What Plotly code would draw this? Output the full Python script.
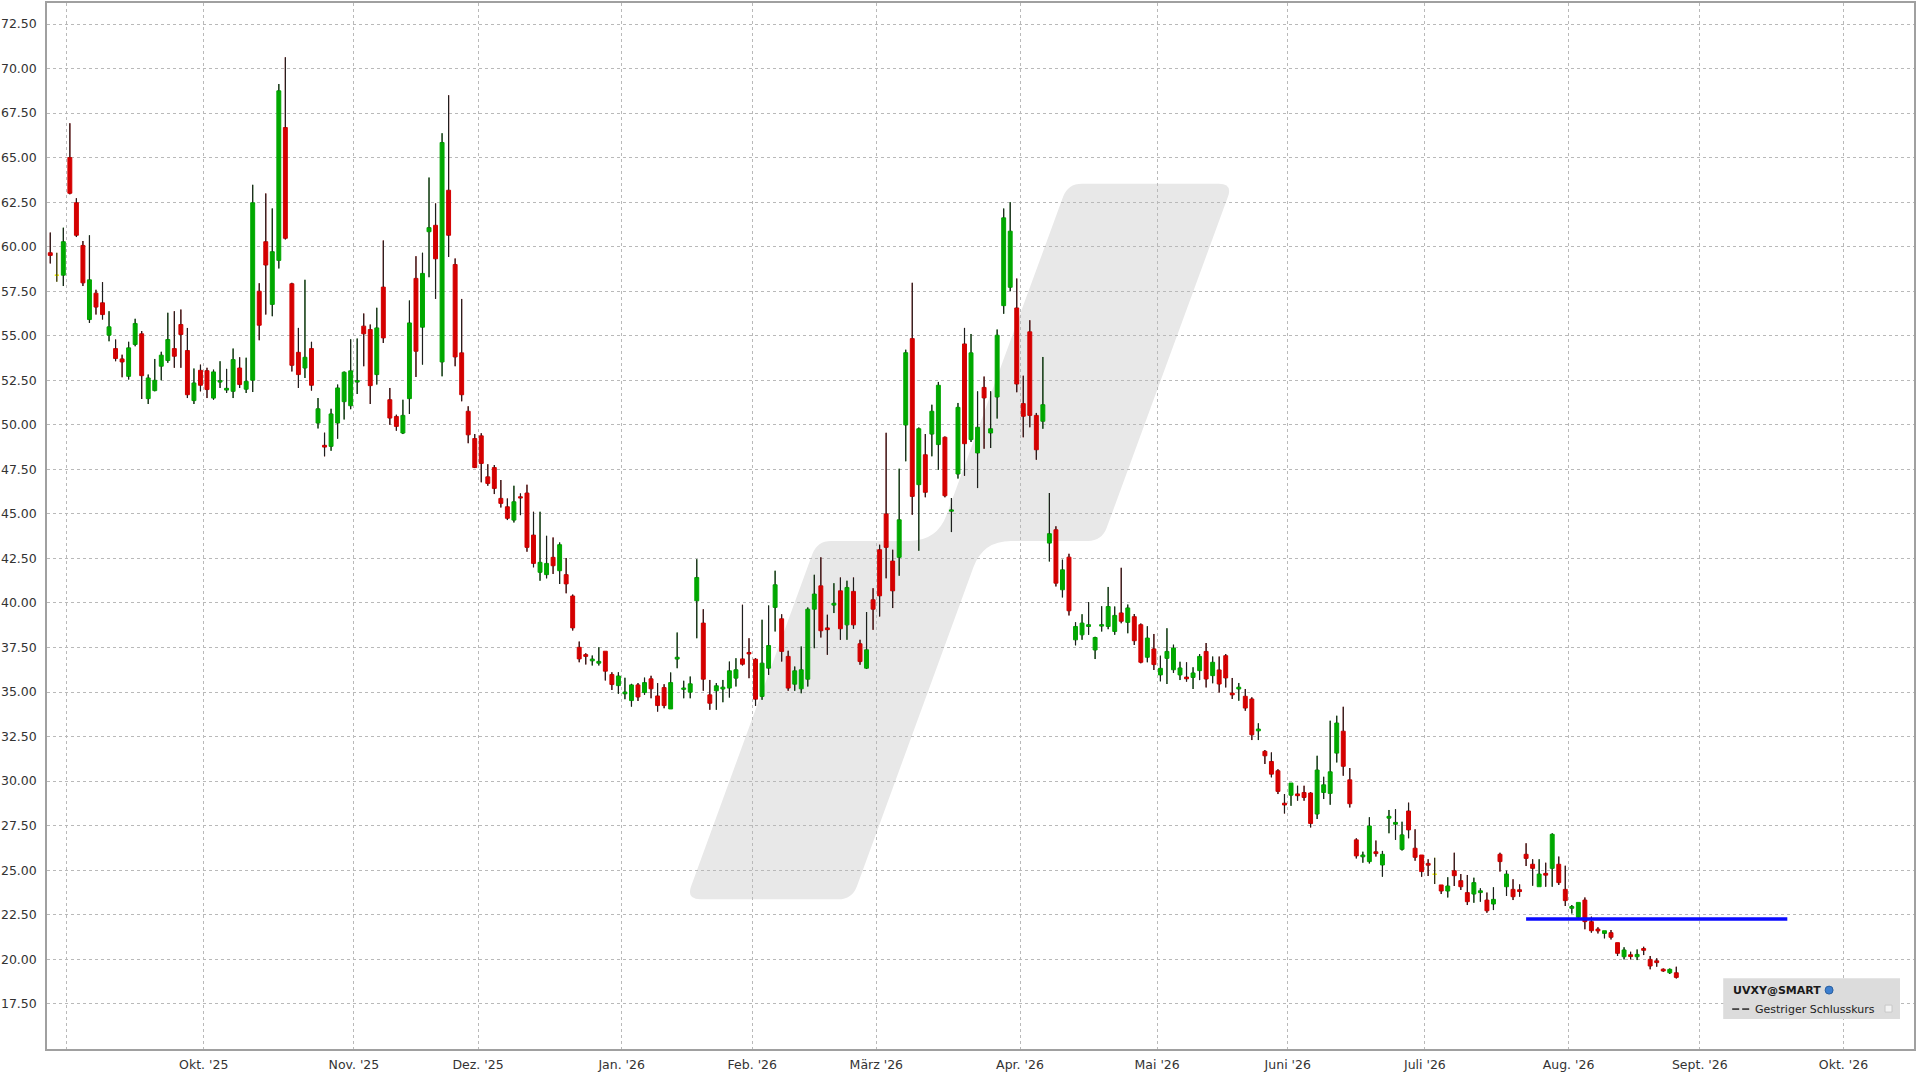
import plotly.graph_objects as go

# ---------------- data ----------------
open_ = [59.66, 58.4, 58.4, 65.0, 62.47, 60.07, 55.91, 57.39, 56.85, 55.03,
         54.28, 53.7, 52.72, 54.51, 55.11, 51.47, 51.92, 53.29, 53.61, 54.28,
         55.63, 54.17, 51.36, 53.06, 53.04, 51.5, 52.4, 51.95, 51.88, 53.19,
         52.0, 52.5, 57.5, 60.28, 56.76, 59.23, 66.69, 57.92, 54.07, 53.19,
         54.28, 50.1, 48.85, 48.79, 50.1, 51.3, 51.07, 52.4, 55.54, 55.35,
         52.82, 57.73, 51.41, 50.47, 49.54, 51.47, 58.22, 55.48, 60.84, 61.2,
         53.53, 63.17, 59.0, 54.04, 50.76, 49.23, 49.38, 47.08, 47.6, 45.87,
         45.4, 44.65, 45.96, 46.17, 43.81, 41.72, 41.59, 42.56, 41.81, 41.59,
         40.39, 37.51, 37.1, 36.75, 36.62, 37.29, 35.98, 35.36, 34.9, 34.52,
         35.4, 34.97, 35.74, 34.78, 35.25, 34.05, 36.85, 35.15, 34.99, 40.12,
         38.87, 34.84, 35.07, 35.17, 35.22, 35.78, 36.86, 37.22, 36.84, 34.75,
         36.34, 39.75, 39.11, 37.0, 35.44, 35.18, 35.72, 39.65, 40.96, 38.6,
         39.88, 40.68, 38.77, 40.65, 37.71, 36.34, 40.18, 42.99, 45.0, 42.35,
         42.56, 49.99, 54.84, 46.64, 48.32, 49.48, 48.89, 49.3, 45.15, 47.24,
         54.54, 49.17, 48.42, 52.1, 49.54, 51.56, 56.69, 57.72, 56.56, 51.19,
         55.22, 50.53, 50.2, 43.36, 44.11, 40.74, 42.57, 37.93, 38.21, 38.68,
         37.36, 38.7, 38.68, 38.4, 39.44, 38.91, 39.23, 38.78, 36.95, 37.42,
         35.96, 36.89, 36.25, 35.96, 35.84, 35.82, 36.2, 37.28, 35.92, 36.24,
         37.04, 34.94, 35.17, 34.76, 34.61, 32.82, 31.67, 31.1, 30.58, 28.76,
         29.21, 29.28, 29.36, 29.33, 28.15, 29.36, 29.31, 31.57, 32.8, 30.07,
         26.7, 25.75, 25.48, 26.03, 25.29, 27.92, 27.58, 26.17, 28.32, 26.23,
         25.85, 25.38, 24.77, 24.17, 23.83, 24.97, 24.41, 23.74, 23.66, 23.74,
         23.32, 23.1, 25.89, 24.07, 23.92, 23.9, 25.89, 25.33, 24.07, 24.82,
         25.1, 25.33, 23.92, 22.86, 22.35, 23.32, 22.11, 21.69, 21.45, 21.49,
         20.93, 20.14, 20.25, 20.14, 20.6, 19.99, 19.91, 19.44, 19.24, 19.24]

high = [60.79, 59.66, 61.07, 66.93, 62.72, 60.32, 60.64, 57.58, 58.01, 56.38,
        54.79, 53.94, 54.66, 55.95, 55.26, 52.82, 53.7, 54.1, 56.29, 56.38,
        56.47, 55.44, 53.16, 53.38, 53.2, 53.1, 53.57, 53.14, 54.28, 53.79,
        53.77, 63.47, 57.95, 62.99, 62.15, 69.13, 70.63, 57.97, 55.44, 58.14,
        54.66, 51.5, 49.56, 50.9, 52.26, 53.0, 54.8, 54.84, 56.25, 55.63,
        56.57, 60.35, 52.07, 50.57, 51.41, 56.98, 59.47, 59.66, 63.88, 62.43,
        66.37, 68.5, 59.34, 57.07, 51.04, 49.48, 49.53, 47.79, 47.74, 46.9,
        45.87, 46.58, 46.15, 46.64, 45.12, 45.12, 43.77, 43.68, 43.4, 42.52,
        40.47, 37.83, 37.18, 37.05, 37.51, 37.29, 36.11, 36.11, 35.8, 35.46,
        35.5, 35.81, 35.91, 35.5, 35.44, 36.1, 38.34, 35.63, 35.87, 42.46,
        39.65, 35.68, 35.5, 35.68, 36.71, 36.9, 39.9, 38.02, 36.9, 39.06,
        39.86, 41.81, 39.37, 37.32, 36.43, 37.56, 39.75, 41.58, 42.56, 39.34,
        41.11, 41.43, 41.25, 41.43, 37.93, 39.49, 40.83, 43.27, 49.55, 42.99,
        47.54, 54.22, 57.97, 49.85, 49.48, 51.13, 52.41, 49.35, 45.89, 51.23,
        55.44, 55.1, 51.88, 52.71, 51.88, 55.35, 62.14, 62.5, 58.21, 52.76,
        55.87, 50.67, 53.81, 46.17, 44.3, 42.43, 42.76, 38.92, 39.37, 40.05,
        38.1, 39.82, 40.9, 39.8, 41.97, 39.91, 39.38, 38.85, 38.69, 38.26,
        37.04, 38.58, 37.66, 36.7, 36.67, 36.39, 37.13, 37.75, 36.99, 36.99,
        37.13, 35.79, 35.51, 35.17, 34.7, 33.24, 31.74, 31.61, 30.67, 29.27,
        29.89, 29.74, 29.74, 29.38, 31.42, 30.24, 33.39, 33.67, 34.17, 30.73,
        26.79, 26.04, 27.97, 26.66, 26.08, 28.38, 28.42, 27.72, 28.79, 27.29,
        25.85, 25.61, 25.7, 24.17, 24.6, 25.98, 24.78, 24.73, 24.58, 23.98,
        23.74, 24.04, 25.98, 24.97, 24.49, 24.2, 26.51, 25.61, 25.61, 25.42,
        27.07, 25.76, 25.25, 23.04, 23.19, 23.47, 22.39, 21.79, 21.6, 21.64,
        20.93, 20.67, 20.42, 20.55, 20.7, 20.18, 20.05, 19.48, 19.48, 19.58]

low = [59.06, 58.03, 57.79, 62.94, 60.54, 57.79, 55.72, 56.19, 55.91, 54.69,
       53.57, 52.67, 52.54, 54.41, 51.45, 51.17, 51.88, 52.5, 53.48, 53.2,
       53.2, 51.5, 51.17, 51.88, 51.5, 51.41, 52.07, 51.79, 51.5, 52.07,
       51.79, 51.84, 54.75, 56.19, 56.1, 58.78, 60.41, 53.0, 52.07, 52.63,
       51.92, 49.8, 48.23, 48.54, 49.22, 50.3, 50.88, 51.73, 53.29, 51.17,
       52.26, 54.6, 50.0, 49.67, 49.48, 50.61, 52.69, 53.38, 58.29, 57.07,
       52.72, 59.42, 53.29, 51.32, 48.97, 47.57, 46.77, 46.58, 46.11, 45.36,
       44.65, 44.52, 44.93, 42.88, 42.0, 41.25, 41.38, 41.63, 41.07, 40.54,
       38.45, 36.67, 36.55, 36.49, 36.49, 35.65, 35.12, 34.9, 34.6, 34.18,
       34.5, 34.84, 34.65, 33.9, 34.09, 34.05, 36.34, 34.65, 34.65, 38.02,
       35.07, 34.0, 34.0, 34.43, 34.69, 35.31, 36.49, 35.78, 34.22, 34.56,
       35.96, 38.4, 36.71, 35.07, 35.07, 34.93, 35.31, 37.46, 38.06, 37.09,
       39.43, 37.93, 37.93, 38.55, 36.53, 36.3, 38.49, 39.24, 41.38, 39.71,
       41.53, 47.95, 44.95, 42.93, 45.93, 48.23, 47.48, 45.93, 43.98, 46.98,
       47.14, 49.04, 46.45, 48.66, 48.7, 50.35, 56.23, 57.5, 51.83, 49.3,
       49.86, 48.04, 49.78, 42.33, 40.93, 40.31, 39.3, 37.62, 37.93, 38.21,
       36.85, 38.4, 38.53, 38.21, 38.86, 38.3, 37.64, 36.61, 36.67, 36.24,
       35.6, 35.45, 36.07, 35.67, 35.58, 35.17, 35.67, 35.26, 35.49, 34.98,
       35.26, 34.61, 34.51, 33.95, 32.3, 32.3, 30.96, 30.21, 29.27, 28.18,
       28.61, 28.9, 28.9, 27.4, 27.87, 28.99, 28.67, 31.05, 30.3, 28.52,
       25.66, 25.42, 25.38, 25.76, 24.63, 27.07, 26.7, 26.1, 26.79, 25.53,
       24.63, 24.67, 24.22, 23.66, 23.47, 24.11, 23.89, 23.04, 23.17, 23.23,
       22.61, 22.76, 24.92, 23.55, 23.32, 23.51, 25.23, 24.13, 24.07, 24.07,
       24.07, 24.17, 22.99, 22.57, 22.29, 21.68, 21.49, 21.45, 21.17, 21.11,
       20.18, 19.99, 19.99, 19.95, 20.23, 19.43, 19.58, 19.3, 19.17, 18.92]

close = [59.51, 58.4, 60.28, 63.0, 60.64, 57.97, 58.14, 56.61, 56.19, 55.5,
         53.72, 53.53, 54.32, 55.69, 52.76, 52.63, 52.5, 53.91, 54.79, 53.85,
         55.07, 51.69, 52.35, 52.22, 51.98, 52.97, 52.48, 52.05, 53.66, 52.26,
         52.44, 62.47, 55.59, 58.97, 59.72, 68.75, 60.47, 53.34, 52.82, 53.79,
         52.22, 50.9, 48.75, 50.61, 52.07, 52.95, 53.03, 52.48, 55.11, 52.2,
         55.44, 54.88, 50.38, 49.91, 50.53, 55.72, 54.13, 58.5, 61.07, 59.32,
         65.85, 60.64, 53.81, 51.69, 49.44, 47.6, 47.83, 46.71, 46.43, 45.59,
         44.75, 45.68, 45.9, 43.12, 42.22, 42.28, 42.22, 42.09, 43.27, 41.07,
         38.6, 36.86, 37.0, 36.85, 36.72, 36.17, 35.42, 35.9, 35.0, 35.4,
         34.72, 35.53, 35.18, 34.24, 34.24, 35.53, 36.95, 35.22, 35.46, 41.43,
         35.72, 34.37, 35.35, 35.27, 36.19, 36.25, 36.56, 37.14, 34.6, 36.62,
         37.61, 41.02, 37.28, 35.22, 36.19, 36.25, 39.65, 40.5, 38.44, 38.5,
         39.98, 38.55, 40.87, 38.77, 36.71, 37.37, 39.65, 40.4, 43.12, 40.68,
         44.67, 54.05, 45.98, 49.78, 46.21, 50.76, 52.22, 46.02, 45.22, 50.98,
         48.94, 54.04, 49.86, 51.51, 49.78, 55.03, 61.62, 60.87, 52.29, 50.48,
         50.53, 48.6, 51.13, 43.89, 41.11, 41.86, 39.56, 38.68, 38.87, 38.78,
         38.06, 38.78, 39.8, 39.3, 38.97, 39.72, 37.88, 36.67, 38.03, 36.54,
         36.33, 37.28, 37.47, 36.35, 35.74, 36.07, 37.0, 35.73, 36.67, 35.45,
         35.79, 34.84, 35.27, 34.1, 32.6, 32.92, 31.42, 30.39, 29.42, 28.66,
         29.89, 29.18, 29.08, 27.62, 30.62, 29.79, 30.52, 33.26, 30.83, 28.73,
         25.8, 25.85, 27.48, 25.93, 25.89, 28.02, 27.68, 26.98, 27.26, 25.72,
         24.92, 25.28, 24.77, 23.83, 24.11, 24.69, 24.07, 23.23, 24.3, 23.84,
         22.72, 23.36, 25.48, 24.78, 23.51, 23.8, 25.66, 25.1, 24.78, 24.72,
         27.01, 24.3, 23.29, 22.96, 23.19, 22.11, 21.6, 21.59, 21.6, 21.23,
         20.33, 20.52, 20.15, 20.27, 20.5, 19.62, 19.81, 19.34, 19.43, 18.98]

# month boundaries on the trading-day axis and their labels
month_pos = [2.5, 23.5, 46.5, 65.5, 87.5, 107.5, 126.5, 148.5, 169.5,
             189.5, 210.5, 232.5, 252.6, 274.6]
month_labels = ["", "Okt. '25", "Nov. '25", "Dez. '25", "Jan. '26", "Feb. '26",
                "März '26", "Apr. '26", "Mai '26", "Juni '26", "Juli '26",
                "Aug. '26", "Sept. '26", "Okt. '26"]

y_ticks = [17.5, 20.0, 22.5, 25.0, 27.5, 30.0, 32.5, 35.0, 37.5, 40.0, 42.5,
           45.0, 47.5, 50.0, 52.5, 55.0, 57.5, 60.0, 62.5, 65.0, 67.5, 70.0, 72.5]

ref_level = 22.26          # blue horizontal line
ref_span = [226, 266]      # trading-day span of the blue line

legend_title = "UVXY@SMART"
legend_item = "Gestriger Schlusskurs"

# ---------------- styling ----------------
GREEN = "#00a800"
RED = "#d40000"
YELLOW = "#f0f000"
WICK = "#1e1e1e"
GRID = "#b9b9b9"
FONT = "DejaVu Sans"

X0, X1, Y0, Y1 = 45, 1914, 1, 1049  # plot area in page pixels


def paper(px, py):
    return (px - X0) / (X1 - X0), (Y1 - py) / (Y1 - Y0)


def rounded_path(pts, radii):
    import math
    n = len(pts)
    segs = []
    for i in range(n):
        vx, vy = pts[i]
        ax, ay = pts[i - 1]
        bx, by = pts[(i + 1) % n]
        r = radii[i]
        la = math.hypot(ax - vx, ay - vy)
        lb = math.hypot(bx - vx, by - vy)
        p1 = (vx + (ax - vx) * r / la, vy + (ay - vy) * r / la)
        p2 = (vx + (bx - vx) * r / lb, vy + (by - vy) * r / lb)
        segs.append((p1, (vx, vy), p2))
    def f(p):
        x, y = paper(*p)
        return f"{x:.5f},{y:.5f}"
    d = "M" + f(segs[0][2])
    for i in list(range(1, n)) + [0]:
        p1, v, p2 = segs[i]
        d += " L" + f(p1) + " Q" + f(v) + " " + f(p2)
    return d + " Z"


idx = list(range(len(close)))
up = [i for i in idx if close[i] > open_[i]]
down = [i for i in idx if close[i] < open_[i]]
flat = [i for i in idx if close[i] == open_[i]]


def candle(sel, inc_col, dec_col):
    return go.Candlestick(
        x=sel,
        open=[open_[i] for i in sel], high=[high[i] for i in sel],
        low=[low[i] for i in sel], close=[close[i] for i in sel],
        increasing=dict(line=dict(color=inc_col, width=1), fillcolor=inc_col),
        decreasing=dict(line=dict(color=dec_col, width=1), fillcolor=dec_col),
        whiskerwidth=0, showlegend=False, hoverinfo="skip")


# wick segments outside the bodies
wx, wy = [], []
for i in idx:
    top, bot = max(open_[i], close[i]), min(open_[i], close[i])
    if high[i] > top:
        wx += [i, i, None]
        wy += [top, high[i], None]
    if low[i] < bot:
        wx += [i, i, None]
        wy += [bot, low[i], None]

fig = go.Figure()
fig.add_trace(candle(up, GREEN, GREEN))
fig.add_trace(candle(down, RED, RED))
fig.add_trace(candle(flat, YELLOW, YELLOW))
fig.add_trace(go.Scatter(x=wx, y=wy, mode="lines", line=dict(color=WICK, width=1.2),
                         hoverinfo="skip", showlegend=False))
fig.add_trace(go.Scatter(x=ref_span, y=[ref_level, ref_level], mode="lines",
                         line=dict(color="#0a0aff", width=3.5), hoverinfo="skip",
                         showlegend=False))

# watermark (logo) behind the grid
wm_pts = [(1067, 182), (1232, 182), (1101, 540), (982, 540), (851, 899),
          (685, 899), (816, 540), (936, 540)]
wm_r = [14, 14, 14, 28, 14, 14, 14, 28]
shapes = [dict(type="path", xref="paper", yref="paper", layer="below",
               path=rounded_path(wm_pts, wm_r), fillcolor="#e8e8e8",
               line=dict(width=0))]

# legend box
lx0, ly0 = paper(1723, 978)
lx1, ly1 = paper(1900, 1019)
shapes.append(dict(type="rect", xref="paper", yref="paper", x0=lx0, y0=ly1, x1=lx1, y1=ly0,
                   fillcolor="#dcdcdc", line=dict(width=0), layer="above"))
for a, b in [(1732, 1739), (1742, 1749)]:
    xa, ya = paper(a, 1009)
    xb, _ = paper(b, 1009)
    shapes.append(dict(type="line", xref="paper", yref="paper", x0=xa, x1=xb, y0=ya, y1=ya,
                       line=dict(color="#333333", width=1.6), layer="above"))
gx0, gy0 = paper(1825, 986)
gx1, gy1 = paper(1833, 994)
shapes.append(dict(type="circle", xref="paper", yref="paper", x0=gx0, x1=gx1, y0=gy1, y1=gy0,
                   fillcolor="#3d7fcf", line=dict(color="#2a5f9f", width=1), layer="above"))
cx0, cy0 = paper(1885, 1005)
cx1, cy1 = paper(1892, 1012)
shapes.append(dict(type="rect", xref="paper", yref="paper", x0=cx0, x1=cx1, y0=cy1, y1=cy0,
                   fillcolor="#f4f4f4", line=dict(color="#c8c8c8", width=1), layer="above"))

ax_t, ay_t = paper(1731, 990)
ax_i, ay_i = paper(1753, 1009)
annotations = [
    dict(xref="paper", yref="paper", x=ax_t, y=ay_t, xanchor="left", yanchor="middle",
         text=f"<b>{legend_title}</b>", showarrow=False,
         font=dict(family=FONT, size=11, color="#1a1a1a")),
    dict(xref="paper", yref="paper", x=ax_i, y=ay_i, xanchor="left", yanchor="middle",
         text=legend_item, showarrow=False,
         font=dict(family=FONT, size=11, color="#222222")),
]

axis_common = dict(showgrid=True, gridcolor=GRID, gridwidth=1, griddash="dot",
                   showline=True, linecolor="#a0a0a0", linewidth=1.5, mirror=True,
                   zeroline=False, ticks="", tickfont=dict(family=FONT, size=12.5, color="#333333"))

fig.update_layout(
    width=1920, height=1080,
    margin=dict(l=X0, r=1920 - X1, t=Y0, b=1080 - Y1),
    plot_bgcolor="white", paper_bgcolor="white",
    showlegend=False, boxgap=0.25, boxgroupgap=0.2,
    shapes=shapes, annotations=annotations,
    xaxis=dict(range=[-0.5, 285.4], tickmode="array", tickvals=month_pos,
               ticktext=month_labels, rangeslider=dict(visible=False),
               ticklabelstandoff=3, **axis_common),
    yaxis=dict(range=[14.96, 73.68], tickmode="array", tickvals=y_ticks,
               tickformat=".2f", ticklabelstandoff=6, **axis_common),
)

fig.write_html("out.html", config={"displayModeBar": False},
               post_script="document.body.style.margin='0';document.body.style.overflow='hidden';")
